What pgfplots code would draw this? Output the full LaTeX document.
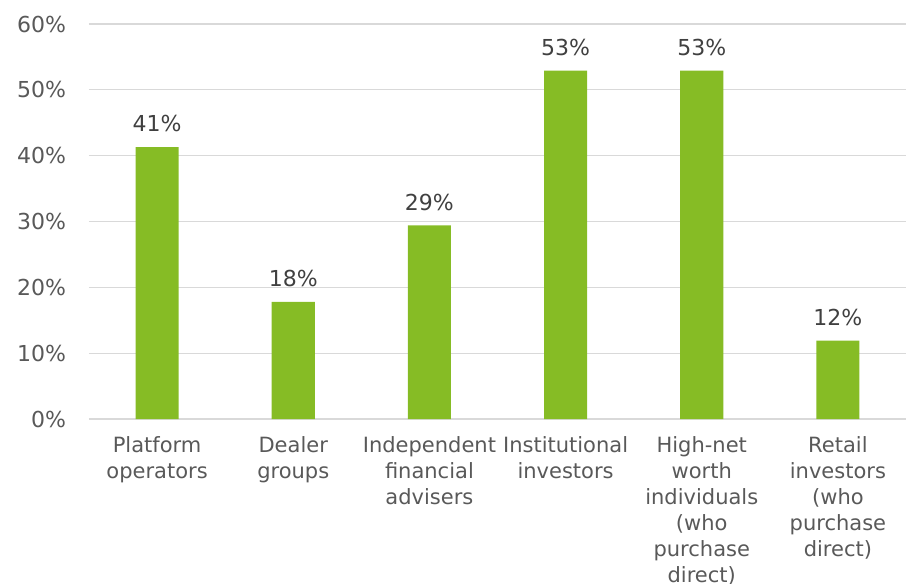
\documentclass[border=0pt]{standalone}
\usepackage{pgfplots}
\pgfplotsset{compat=1.18}
\usepackage{fontspec}
\setmainfont{DejaVu Sans}
\definecolor{barGreen}{HTML}{86BC25}
\definecolor{tickGrey}{HTML}{595959}
\definecolor{labelGrey}{HTML}{404040}
\definecolor{gridGrey}{HTML}{D9D9D9}
\begin{document}
\begin{tikzpicture}
\begin{axis}[
    scale only axis,
    width=408.5pt, height=197.5pt,
    xmin=-0.5, xmax=5.5,
    ymin=0, ymax=60,
    ytick={0,10,...,60},
    yticklabel={\pgfmathprintnumber{\tick}\%},
    /pgf/number format/assume math mode=true,
    xtick={0,1,2,3,4,5},
    xticklabels={
        Platform\\operators,
        Dealer\\groups,
        Independent\\financial\\advisers,
        Institutional\\investors,
        High-net\\worth\\individuals\\(who\\purchase\\direct),
        Retail\\investors\\(who\\purchase\\direct)},
    xticklabel style={align=center, font=\fontsize{10.5}{13}\selectfont,
        text=tickGrey, yshift=-5pt},
    yticklabel style={font=\fontsize{11}{13}\selectfont, text=tickGrey, xshift=-8pt},
    ymajorgrids,
    grid style={gridGrey, line width=0.6pt},
    axis x line*=bottom,
    axis y line*=left,
    x axis line style={gridGrey, line width=0.9pt, -},
    y axis line style={draw=none},
    major tick length=0pt,
    ybar,
    bar width=0.316,
    nodes near coords={\pgfmathprintnumber[fixed,precision=0]{\pgfplotspointmeta}\%},
    nodes near coords style={font=\fontsize{11}{13}\selectfont, text=labelGrey,
        /pgf/number format/assume math mode=true, yshift=4pt},
]
\addplot[fill=barGreen, draw=none] coordinates {
    (0,41.3) (1,17.8) (2,29.4) (3,52.9) (4,52.9) (5,11.9)
};
\coordinate (bl) at (rel axis cs:0,0);
\coordinate (tr) at (rel axis cs:1,1);
\end{axis}
\pgfresetboundingbox
\path ([xshift=-44.5pt,yshift=-82.5pt]bl) rectangle ([yshift=12pt]tr);
\end{tikzpicture}
\end{document}
